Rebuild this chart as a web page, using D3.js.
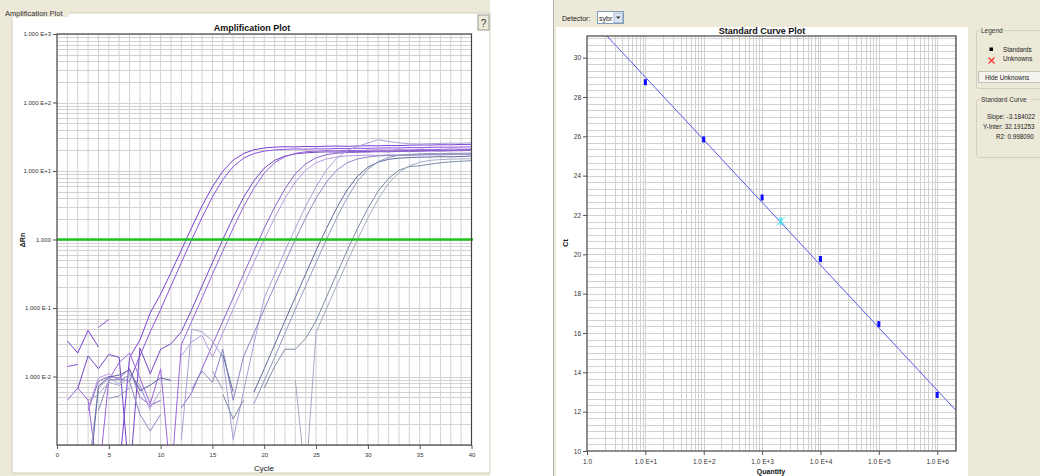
<!DOCTYPE html>
<html>
<head>
<meta charset="utf-8">
<script src="https://cdn.jsdelivr.net/npm/d3@7"></script>
<style>
  body { margin: 0; background: #fff; }
  text { font-family: "Liberation Sans", Arial, sans-serif; }
</style>
</head>
<body>
<svg id="chart" width="1040" height="476"></svg>
<script>
// ---- amplification data: delta Rn per cycle 1..40 (null = negative, not drawn)
const cycles = d3.range(1, 41);

const wellA1 = [0.033, 0.022, 0.047, 0.027, null, 0.0004, 0.019, 0.034, 0.085, 0.16, 0.33, 0.70, 1.5, 3.1, 5.9, 9.9, 14.4, 18.0, 20.4, 21.7, 22.3, 22.6, 22.5, 22.8, 22.7, 23.0, 23.1, 22.9, 23.2, 23.4, 23.3, 23.6, 23.5, 23.8, 24.0, 23.9, 24.2, 24.1, 24.4, 24.5];
const wellA2 = [0.014, 0.015, null, 0.052, 0.068, null, 0.0085, 0.020, 0.045, 0.095, 0.21, 0.46, 1.0, 2.1, 4.2, 7.5, 11.6, 15.4, 18.0, 19.5, 20.3, 20.7, 21.0, 20.8, 21.1, 21.0, 21.3, 21.2, 21.5, 21.4, 21.6, 21.8, 21.7, 22.0, 21.9, 22.1, 22.3, 22.2, 22.4, 22.6];
const wellB1 = [null, 0.0066, 0.020, 0.013, 0.021, 0.019, 0.0003, 0.026, 0.011, 0.025, 0.030, 0.045, 0.095, 0.21, 0.46, 1.0, 2.1, 4.1, 7.2, 11.0, 14.3, 16.5, 17.8, 18.4, 18.8, 19.0, 18.9, 19.2, 19.1, 19.3, 19.5, 19.4, 19.6, 19.8, 19.7, 19.9, 20.1, 20.0, 20.3, 20.4];
const wellB2 = [0.0045, 0.0068, 0.0045, 0.0003, 0.009, 0.016, 0.022, 0.0095, 0.004, 0.013, 0.0003, 0.029, 0.064, 0.14, 0.31, 0.68, 1.46, 3.0, 5.6, 9.3, 13.2, 16.2, 18.1, 19.1, 19.5, 19.8, 19.7, 20.0, 19.9, 20.1, 20.3, 20.2, 20.4, 20.3, 20.6, 20.5, 20.7, 20.9, 20.8, 21.0];
const wellC1 = [null, null, 0.0032, 0.0085, 0.010, 0.0095, 0.013, 0.005, 0.0038, 0.0045, null, 0.0035, 0.0058, 0.013, 0.029, 0.064, 0.14, 0.31, 0.68, 1.46, 2.96, 5.5, 9.1, 12.7, 15.6, 17.3, 18.2, 18.6, 18.8, 18.9, 19.1, 19.0, 19.3, 19.2, 19.4, 19.6, 19.5, 19.7, 19.8, 20.0];
const wellC2 = [null, null, 0.0035, 0.0095, 0.011, 0.0088, 0.0105, 0.0075, 0.0032, null, null, 0.020, 0.032, 0.040, 0.019, 0.043, 0.096, 0.21, 0.46, 1.0, 2.08, 4.0, 6.9, 10.3, 13.2, 15.0, 16.0, 16.6, 16.8, 17.0, 16.9, 17.2, 17.1, 17.3, 17.5, 17.4, 17.6, 17.8, 17.7, 17.9];
const wellD1 = [null, null, 0.0004, 0.0068, 0.0095, 0.0078, 0.011, 0.0068, 0.0035, 0.0062, null, 0.0012, 0.049, 0.045, 0.033, 0.019, 0.0012, 0.006, 0.03, 0.14, 0.31, 0.68, 1.46, 3.05, 5.9, 10.3, 15.4, 19.9, 22.9, 25.6, 28.6, 27.0, 25.8, 25.0, 24.8, 25.1, 25.3, 25.5, 25.4, 25.8];
const wellD2 = [null, null, null, 0.0032, 0.0088, 0.0092, 0.0085, 0.0028, 0.0016, 0.0028, null, null, 0.0065, 0.012, 0.0082, 0.025, 0.0045, 0.0195, 0.043, 0.096, 0.21, 0.46, 1.0, 2.08, 4.0, 6.9, 10.3, 13.2, 15.0, 16.0, 16.6, 16.8, 17.0, 16.9, 17.1, 17.3, 17.2, 17.4, 17.6, 17.5];
const wellE1 = [null, null, 0.0002, 0.0072, 0.0098, 0.0105, 0.0125, 0.0062, 0.0075, 0.0095, 0.0088, null, null, null, null, 0.021, 0.006, null, 0.0059, 0.013, 0.029, 0.065, 0.143, 0.315, 0.69, 1.45, 2.9, 5.3, 8.4, 11.4, 13.5, 14.8, 15.4, 15.7, 15.9, 16.0, 16.2, 16.1, 16.3, 16.5];
const wellE2 = [null, null, null, null, 0.0048, 0.0052, 0.0068, null, null, null, null, null, null, null, 0.012, 0.0065, null, null, 0.004, 0.0087, 0.019, 0.043, 0.096, 0.21, 0.46, 1.0, 2.08, 4.06, 7.1, 10.6, 13.7, 15.8, 16.9, 17.5, 17.8, 18.0, 17.9, 18.2, 18.1, 18.3];
const wellF1 = [null, null, null, null, null, null, null, null, null, null, null, null, null, null, null, 0.0055, 0.0024, 0.0045, null, 0.0068, 0.014, 0.025, 0.025, 0.036, 0.065, 0.144, 0.317, 0.69, 1.45, 2.85, 5.1, 7.8, 10.3, 11.6, 11.9, 12.6, 13.2, 13.6, 13.9, 14.1];
const wellF2 = [null, null, 0.0045, 0.0055, 0.0082, 0.0074, 0.0098, null, null, null, null, null, null, null, null, null, null, null, null, 0.0095, null, null, 0.0088, 0.0003, 0.044, 0.097, 0.214, 0.465, 1.0, 2.06, 3.9, 6.6, 9.5, 11.9, 13.4, 14.3, 14.7, 14.9, 15.0, 15.1];

const wells = [wellA1, wellA2, wellB1, wellB2, wellC1, wellC2, wellD1, wellD2, wellE1, wellE2, wellF1, wellF2];
const wellColors = ['#7b3fd6', '#8a4fe0', '#7446c4', '#9a64dc', '#8e62cc', '#b79ae0',
                    '#a9a2d8', '#8c88c4', '#5e6a9c', '#8f9ac0', '#7d8ca8', '#a3acc2'];
const threshold = 1.0;
const cycleTicks = [0, 5, 10, 15, 20, 25, 30, 35, 40];
const rnTicks = [1e-2, 1e-1, 1, 1e1, 1e2, 1e3];

// ---- standard curve data
const stdQuantity = [1e1, 1e2, 1e3, 1e4, 1e5, 1e6];
const stdCt = [28.75, 25.84, 22.89, 19.76, 16.45, 12.85];
const unkQuantity = [2.1e3];
const unkCt = [21.68];
const slope = -3.184022;
const yInter = 32.191253;
const r2 = '0.998090';
const ctTicks = [10, 12, 14, 16, 18, 20, 22, 24, 26, 28, 30];
const qtyTicks = [1, 1e1, 1e2, 1e3, 1e4, 1e5, 1e6];

const svg = d3.select('#chart');
const beige = '#ece9d8';
const gridColor = '#d2d2d2';

// ================= left: amplification plot =================
svg.append('rect').attr('x', 0).attr('y', 0).attr('width', 490).attr('height', 476).attr('fill', beige);
svg.append('rect').attr('x', 12).attr('y', 13).attr('width', 478).attr('height', 460)
  .attr('fill', '#fff').attr('stroke', '#d0d0bf');
svg.append('rect').attr('x', 3).attr('y', 8).attr('width', 66).attr('height', 9).attr('fill', beige);
svg.append('text').attr('x', 5).attr('y', 16).attr('font-size', 7.5).attr('fill', '#333').text('Amplification Plot');

// help button
svg.append('rect').attr('x', 478).attr('y', 15).attr('width', 11).attr('height', 15)
  .attr('fill', beige).attr('stroke', '#9a9a8a');
svg.append('text').attr('x', 483.5).attr('y', 27).attr('text-anchor', 'middle')
  .attr('font-size', 10).attr('fill', '#333').text('?');

const ampX = d3.scaleLinear().domain([0, 40]).range([57, 471.5]);
const ampY = d3.scaleLog().domain([1e-3, 1e3]).range([445, 34]);

svg.append('clipPath').attr('id', 'ampClip').append('rect')
  .attr('x', 57).attr('y', 34).attr('width', 414.5).attr('height', 411);

let ampGrid = svg.append('g');
ampGrid.selectAll('line.v').data(d3.range(1, 40)).enter().append('line')
  .attr('x1', d => ampX(d)).attr('x2', d => ampX(d))
  .attr('y1', 34).attr('y2', 445)
  .attr('stroke', gridColor).attr('stroke-width', 1);
ampGrid.selectAll('line.h').data(ampY.ticks()).enter().append('line')
  .attr('x1', 57).attr('x2', 471.5)
  .attr('y1', d => Math.round(ampY(d)) + 0.5).attr('y2', d => Math.round(ampY(d)) + 0.5)
  .attr('stroke', gridColor).attr('stroke-width', 1);

let ampLine = d3.line()
  .defined(d => d[1] != null)
  .x(d => ampX(d[0]))
  .y(d => ampY(d[1]));

svg.append('g').attr('clip-path', 'url(#ampClip)')
  .selectAll('path').data(wells).enter().append('path')
  .attr('d', w => ampLine(cycles.map((c, i) => [c, w[i]])))
  .attr('fill', 'none')
  .attr('stroke', (w, i) => wellColors[i])
  .attr('stroke-width', 1);

svg.append('line')
  .attr('x1', 57).attr('x2', 473)
  .attr('y1', ampY(threshold)).attr('y2', ampY(threshold))
  .attr('stroke', '#1fc51f').attr('stroke-width', 2.5);

svg.append('rect').attr('x', 57).attr('y', 34).attr('width', 414.5).attr('height', 411)
  .attr('fill', 'none').attr('stroke', '#444').attr('stroke-width', 1.2);

let rnFormat = d => {
  let e = Math.round(Math.log10(d));
  return e === 0 ? '1.000' : '1.000 E' + (e > 0 ? '+' : '') + e;
};

let ampYAxis = svg.append('g').attr('transform', 'translate(57,0)')
  .call(d3.axisLeft(ampY).tickValues(rnTicks).tickFormat(rnFormat).tickSize(4).tickPadding(2));
let ampXAxis = svg.append('g').attr('transform', 'translate(0,445)')
  .call(d3.axisBottom(ampX).tickValues(cycleTicks).tickFormat(d3.format('d')).tickSize(4).tickPadding(4));
[ampYAxis, ampXAxis].forEach(a => {
  a.select('.domain').remove();
  a.selectAll('line').attr('stroke', '#555');
  a.selectAll('text').attr('font-size', 6).attr('fill', '#333').attr('font-family', '"Liberation Sans", Arial, sans-serif');
});

svg.append('text').attr('x', 252).attr('y', 31).attr('text-anchor', 'middle')
  .attr('font-size', 9).attr('font-weight', 'bold').attr('fill', '#111').text('Amplification Plot');
svg.append('text').attr('x', 264).attr('y', 471).attr('text-anchor', 'middle')
  .attr('font-size', 8).attr('fill', '#111').text('Cycle');
svg.append('text').attr('transform', 'translate(25,240) rotate(-90)').attr('text-anchor', 'middle')
  .attr('font-size', 7).attr('font-weight', 'bold').attr('fill', '#111').text('\u0394Rn');

// ================= right: standard curve =================
svg.append('rect').attr('x', 553).attr('y', 0).attr('width', 487).attr('height', 476).attr('fill', beige);
svg.append('line').attr('x1', 553.5).attr('x2', 553.5).attr('y1', 0).attr('y2', 476).attr('stroke', '#b5b3a6');
svg.append('rect').attr('x', 556).attr('y', 27).attr('width', 412).attr('height', 449).attr('fill', '#fff');

svg.append('text').attr('x', 562).attr('y', 21).attr('font-size', 7).attr('fill', '#222').text('Detector:');
svg.append('rect').attr('x', 597.5).attr('y', 11.5).attr('width', 26).attr('height', 12)
  .attr('fill', '#fff').attr('stroke', '#7f9db9');
svg.append('text').attr('x', 599).attr('y', 20.5).attr('font-size', 7).attr('fill', '#222').text('sybr');
svg.append('rect').attr('x', 614).attr('y', 13).attr('width', 8.5).attr('height', 9.5)
  .attr('fill', '#dfe6f3').attr('stroke', '#aab8d0');
svg.append('path').attr('d', 'M616,16.5 L620.5,16.5 L618.25,19 Z').attr('fill', '#333');

const stdX = d3.scaleLog().domain([1, 2.1e6]).range([587, 956]);
const stdY = d3.scaleLinear().domain([10, 31.1]).range([451, 36]);

svg.append('clipPath').attr('id', 'stdClip').append('rect')
  .attr('x', 587).attr('y', 36).attr('width', 369).attr('height', 415);

let stdGrid = svg.append('g');
stdGrid.selectAll('line.v').data(stdX.ticks().filter(d => d > 1)).enter().append('line')
  .attr('x1', d => Math.round(stdX(d)) + 0.5).attr('x2', d => Math.round(stdX(d)) + 0.5)
  .attr('y1', 36).attr('y2', 451)
  .attr('stroke', gridColor);
// minor horizontal grid: three lines per Ct unit
stdGrid.selectAll('line.h').data(d3.range(1, 64).map(k => 10 + k / 3)).enter().append('line')
  .attr('x1', 587).attr('x2', 956)
  .attr('y1', d => Math.round(stdY(d)) + 0.5).attr('y2', d => Math.round(stdY(d)) + 0.5)
  .attr('stroke', gridColor);

let fitLine = d3.line().x(d => stdX(d)).y(d => stdY(yInter + slope * Math.log10(d)));
let stdPlot = svg.append('g').attr('clip-path', 'url(#stdClip)');
stdPlot.append('path').attr('d', fitLine(stdX.domain()))
  .attr('fill', 'none').attr('stroke', '#5858ec').attr('stroke-width', 1);

stdPlot.selectAll('rect.std').data(stdQuantity).enter().append('rect')
  .attr('x', d => stdX(d) - 1.5)
  .attr('y', (d, i) => stdY(stdCt[i]) - 3)
  .attr('width', 3).attr('height', 6)
  .attr('fill', '#0a0aff');

stdPlot.selectAll('g.unk').data(unkQuantity).enter().append('g')
  .attr('transform', (d, i) => `translate(${stdX(d)},${stdY(unkCt[i])})`)
  .each(function () {
    let g = d3.select(this);
    [[-4, -4, 4, 4], [-4, 4, 4, -4], [-1, -4, 1, 4], [-1, 4, 1, -4]].forEach(s => {
      g.append('line').attr('x1', s[0]).attr('y1', s[1]).attr('x2', s[2]).attr('y2', s[3])
        .attr('stroke', '#3fe0ee').attr('stroke-width', 1);
    });
  });

svg.append('rect').attr('x', 587).attr('y', 36).attr('width', 369).attr('height', 415)
  .attr('fill', 'none').attr('stroke', '#444').attr('stroke-width', 1.2);

let qtyFormat = d => {
  let e = Math.round(Math.log10(d));
  return e === 0 ? '1.0' : '1.0 E+' + e;
};
let stdYAxis = svg.append('g').attr('transform', 'translate(587,0)')
  .call(d3.axisLeft(stdY).tickValues(ctTicks).tickFormat(d3.format('d')).tickSize(4).tickPadding(2));
let stdXAxis = svg.append('g').attr('transform', 'translate(0,451)')
  .call(d3.axisBottom(stdX).tickValues(qtyTicks).tickFormat(qtyFormat).tickSize(4).tickPadding(4));
[stdYAxis, stdXAxis].forEach(a => {
  a.select('.domain').remove();
  a.selectAll('line').attr('stroke', '#555');
  a.selectAll('text').attr('font-size', 6.5).attr('fill', '#333').attr('font-family', '"Liberation Sans", Arial, sans-serif');
});

svg.append('text').attr('x', 762).attr('y', 34).attr('text-anchor', 'middle')
  .attr('font-size', 9).attr('font-weight', 'bold').attr('fill', '#111').text('Standard Curve Plot');
svg.append('text').attr('x', 771).attr('y', 474).attr('text-anchor', 'middle')
  .attr('font-size', 7).attr('font-weight', 'bold').attr('fill', '#111').text('Quantity');
svg.append('text').attr('transform', 'translate(568,243) rotate(-90)').attr('text-anchor', 'middle')
  .attr('font-size', 7.5).attr('font-weight', 'bold').attr('fill', '#111').text('Ct');

// ---- legend panel
let groupBox = (y, h, label) => {
  svg.append('rect').attr('x', 976.5).attr('y', y + 0.5).attr('width', 70).attr('height', h)
    .attr('fill', 'none').attr('stroke', '#d0d0bf').attr('rx', 2);
  svg.append('rect').attr('x', 980).attr('y', y - 4).attr('width', label.length * 3.6).attr('height', 8).attr('fill', beige);
  svg.append('text').attr('x', 981).attr('y', y + 2.5).attr('font-size', 6.5).attr('fill', '#333').text(label);
};
groupBox(30, 58, 'Legend');
svg.append('rect').attr('x', 989.5).attr('y', 47.5).attr('width', 3.5).attr('height', 3.5).attr('fill', '#000');
svg.append('text').attr('x', 1003).attr('y', 51.5).attr('font-size', 6.3).attr('fill', '#222').text('Standards');
svg.append('path').attr('d', 'M988.5,57.5 L994.5,63.5 M994.5,57.5 L988.5,63.5')
  .attr('stroke', '#ff3030').attr('stroke-width', 1.3);
svg.append('text').attr('x', 1003).attr('y', 60.5).attr('font-size', 6.3).attr('fill', '#222').text('Unknowns');
svg.append('rect').attr('x', 978.5).attr('y', 71.5).attr('width', 66).attr('height', 11)
  .attr('fill', '#f4f3ee').attr('stroke', '#c4c2b6');
svg.append('text').attr('x', 985).attr('y', 79.5).attr('font-size', 6.3).attr('fill', '#222').text('Hide Unknowns');

groupBox(99, 58, 'Standard Curve');
svg.append('text').attr('x', 987).attr('y', 119).attr('font-size', 6.3).attr('fill', '#222').text('Slope: ' + slope.toFixed(6));
svg.append('text').attr('x', 983).attr('y', 129).attr('font-size', 6.3).attr('fill', '#222').text('Y-Inter: ' + yInter.toFixed(6));
svg.append('text').attr('x', 996).attr('y', 139).attr('font-size', 6.3).attr('fill', '#222').text('R2: ' + r2);
</script>
</body>
</html>
